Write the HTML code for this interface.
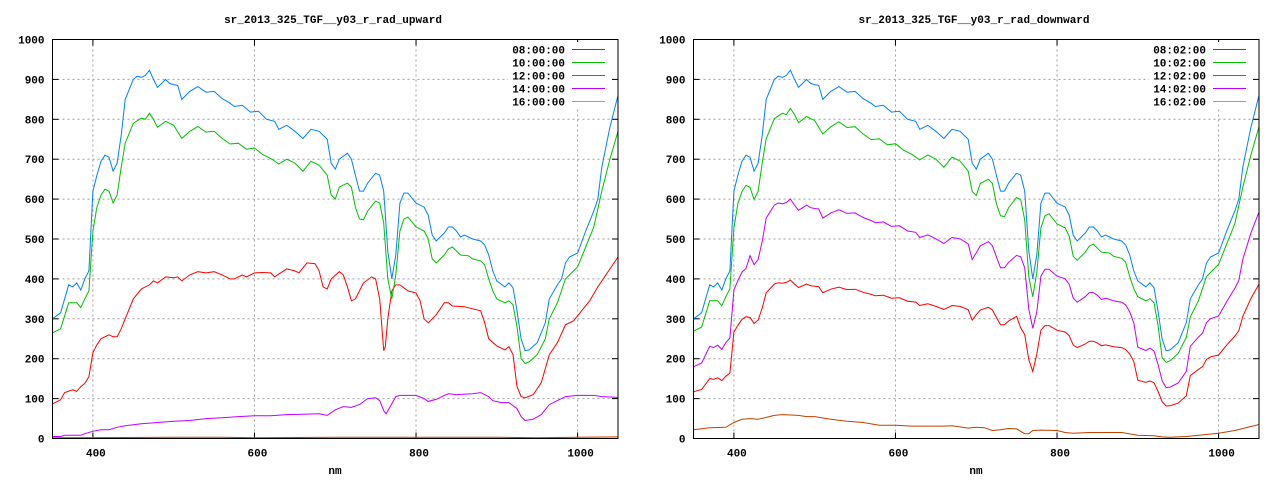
<!DOCTYPE html>
<html><head><meta charset="utf-8"><style>
html,body{margin:0;padding:0;background:#fff;}
svg{display:block;}
text{font-family:"Liberation Mono","DejaVu Sans Mono",monospace;font-size:11px;font-weight:bold;fill:#000;}
</style></head><body>
<svg id="s" width="1280" height="480" xmlns="http://www.w3.org/2000/svg"></svg>
<script>
const S=document.getElementById('s');
function el(t,a,txt){const e=document.createElementNS('http://www.w3.org/2000/svg',t);for(const k in a)e.setAttribute(k,a[k]);if(txt!=null)e.textContent=txt;S.appendChild(e);return e;}
function P(s){return s.trim().split(/[,\s]+/).map(p=>p.split(':').map(Number));}
const blue=P(`350:300 360:315 370:385 375:380 380:390 385:372 390:400 395:420 400:620 405:660 410:695 415:710 420:705 425:670 430:690 435:760 440:850 450:900 455:908 460:905 465:910 470:923 475:900 480:880 485:890 490:900 495:890 500:887 505:885 510:850 515:860 520:870 530:882 540:868 550:870 560:852 570:840 575:832 585:835 595:818 605:820 615:800 625:795 630:775 640:785 650:770 660:752 670:775 680:770 690:750 695:690 700:675 705:700 715:715 720:700 725:660 730:620 735:620 740:640 750:665 755:660 760:620 765:470 770:400 775:460 780:590 785:615 790:615 800:590 810:580 815:560 820:510 825:495 835:515 840:530 845:530 850:520 855:505 860:510 865:505 870:500 880:495 885:485 890:460 895:420 900:395 910:380 915:390 920:378 925:320 930:250 935:220 940:222 950:240 960:290 965:350 975:385 980:400 985:440 990:455 1000:465 1010:520 1020:570 1025:600 1030:680 1040:780 1050:860`);
const green=P(`350:265 360:275 370:340 380:340 385:328 390:350 395:370 400:520 405:580 410:610 415:625 420:620 425:590 430:610 435:680 440:740 450:790 460:803 465:800 470:815 475:800 480:780 490:795 500:785 510:752 520:770 530:782 540:768 550:770 560:752 570:738 580:740 590:725 600:728 610:712 620:702 630:688 640:700 650:690 660:670 670:695 680:685 690:660 695:610 700:600 705:630 715:640 720:630 725:580 730:550 735:548 740:570 750:595 755:590 760:540 765:400 770:350 775:410 780:520 785:550 790:555 800:530 810:520 815:500 820:450 825:440 835:460 840:475 845:480 850:470 855:460 865:458 870:450 880:445 885:435 890:400 895:370 900:350 910:340 915:345 920:335 925:280 930:200 935:188 940:192 950:210 960:250 965:300 975:340 985:400 1000:430 1010:480 1020:530 1030:620 1040:700 1050:770`);
const red=P(`350:87 360:97 365:115 375:122 380:118 385:130 390:138 395:155 400:215 405:235 410:250 420:260 425:255 430:255 435:275 440:300 450:350 460:375 470:385 475:395 480:390 490:405 500:403 505:405 510:395 520:410 530:418 540:415 550:418 560:410 570:400 575:400 585:410 590:405 600:415 610:416 620:415 625:405 630:412 640:425 650:420 655:415 665:440 675:438 680:420 685:380 690:375 695:400 705:418 710:410 715:380 720:345 725:350 735:390 745:405 750:400 755:350 760:220 762:230 765:300 770:370 775:385 780:385 790:370 800:365 805:345 810:300 815:290 825:310 835:340 840:340 845:332 860:330 870:325 880:320 885:290 890:250 900:232 910:222 915:230 920:210 925:130 930:105 935:102 945:110 955:140 965:210 975:240 985:285 995:295 1005:320 1015:345 1025:380 1035:410 1050:455`);
const purple=P(`350:5 360:5 365:8 385:8 390:12 400:18 410:22 420:22 430:28 440:32 460:37 480:40 500:43 520:45 540:50 560:52 580:55 600:57 620:57 640:60 660:61 680:62 690:58 700:72 710:80 720:78 730:85 740:100 750:102 755:95 760:70 763:62 768:80 775:105 780:108 800:108 810:100 815:93 825:98 835:108 840:112 850:110 870:112 880:115 890:105 895:95 905:90 915:90 925:75 930:55 935:45 945:48 955:60 965:85 975:95 985:105 1000:108 1020:108 1030:105 1050:103`);
const orange=P(`350:2 500:3 560:3 600:2 700:3 760:3 800:3 900:3 950:2 1000:3 1050:4`);
const brown=P(`350:22 370:27 390:28 400:40 410:48 420:50 430:48 450:58 460:60 480:58 490:55 500:55 520:48 540:43 560:40 580:33 600:33 620:31 640:31 660:31 670:32 690:26 700:28 710:27 720:20 730:22 740:25 750:24 760:12 765:12 770:20 780:21 800:20 810:15 820:13 840:15 880:15 900:8 920:7 930:4 940:3 960:5 980:9 1000:13 1020:20 1040:30 1050:35`);
function scale(d,f){return d.map(([x,y])=>[x,typeof f==='function'?f(x,y):y*f]);}
function chart(ox,title,labels,series){
  const L=ox+52.5,R=ox+618,T=39.5,B=438.5;
  const X=v=>L+(v-350)*(R-L)/700, Y=v=>B-v*(B-T)/1000;
  el('text',{x:ox+333,y:23,'text-anchor':'middle'},title);
  for(let v=0;v<=1000;v+=100){const y=Y(v);
    if(v>0&&v<1000)el('line',{x1:L,x2:R,y1:y,y2:y,stroke:'#a0a0a0','stroke-dasharray':'2,3','stroke-width':1});
    el('line',{x1:L,x2:L+6,y1:y,y2:y,stroke:'#000'});el('line',{x1:R-6,x2:R,y1:y,y2:y,stroke:'#000'});
    el('text',{x:L-8,y:y+4,'text-anchor':'end'},v);}
  for(let v=400;v<=1000;v+=200){const x=X(v);
    el('line',{x1:x,x2:x,y1:T,y2:B,stroke:'#a0a0a0','stroke-dasharray':'2,3'});
    el('line',{x1:x,x2:x,y1:B,y2:B-6,stroke:'#000'});el('line',{x1:x,x2:x,y1:T,y2:T+6,stroke:'#000'});
    el('text',{x:x+3,y:B+18,'text-anchor':'middle'},v);}
  el('rect',{x:ox+508,y:42,width:104,height:66,fill:'#fff'});
  el('text',{x:ox+335,y:474,'text-anchor':'middle'},'nm');
  const lc=['#ff0000','#00c000','#0080ff','#c000ff','#00e0e0'];
  labels.forEach((t,i)=>{const y=49.5+i*13;
    el('text',{x:ox+565,y:y+4,'text-anchor':'end'},t);
    el('line',{x1:ox+572,x2:ox+605,y1:y,y2:y,stroke:lc[i]});});
  series.forEach(([d,c])=>{el('polyline',{points:d.map(([x,y])=>X(x).toFixed(1)+','+Y(y).toFixed(1)).join(' '),fill:'none',stroke:c,'stroke-width':1});});
  el('rect',{x:L,y:T,width:R-L,height:B-T,fill:'none',stroke:'#000'});
}
function pf(x,y){let r=x<700?0.65:0.69; if(x>=900&&x<=960)r=0.58; if(x>960)r=0.66; if(x<420)r=0.6; return y*r;}
function rf(x,y){let r=x<700?0.43:0.46; if(x>=900&&x<=960)r=0.37; if(x>960)r=0.45; if(x<400)r=0.39; if(x>=755&&x<=770)r=0.42; return y*r;}
chart(0,'sr_2013_325_TGF__y03_r_rad_upward',['08:00:00','10:00:00','12:00:00','14:00:00','16:00:00'],
 [[orange,'#c04000'],[purple,'#c000ff'],[red,'#ff0000'],[green,'#00c000'],[blue,'#0080ff']]);
chart(641,'sr_2013_325_TGF__y03_r_rad_downward',['08:02:00','10:02:00','12:02:00','14:02:00','16:02:00'],
 [[brown,'#c04000'],[scale(blue,pf),'#c000ff'],
  [scale(blue,rf),'#ff0000'],[scale(green,1.015),'#00c000'],[blue,'#0080ff']]);
</script>
</body></html>
